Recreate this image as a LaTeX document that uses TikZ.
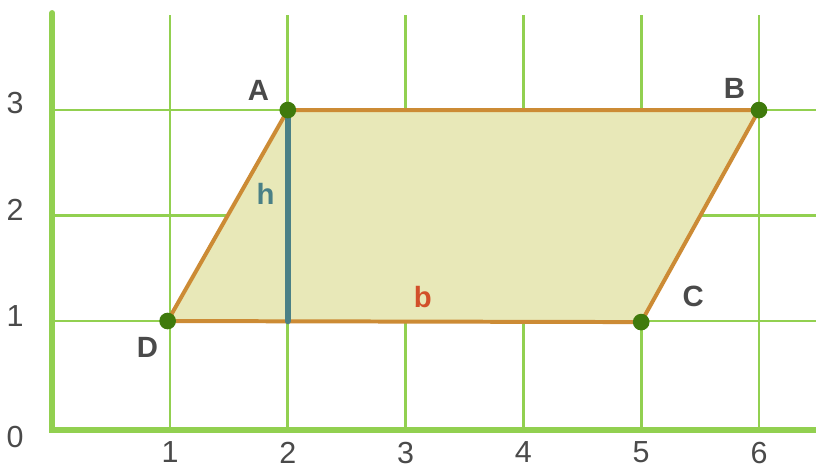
\documentclass[tikz,border=0pt]{standalone}
\usepackage{fontspec}
\setmainfont{Liberation Sans}
\usetikzlibrary{positioning}
\definecolor{gridgreen}{HTML}{92D050}
\definecolor{dotgreen}{HTML}{3F7A0C}
\definecolor{edgeorange}{HTML}{CC8B35}
\definecolor{fillolive}{HTML}{E8E8B8}
\definecolor{heightteal}{HTML}{4A8086}
\definecolor{basered}{HTML}{D2502A}
\definecolor{labelgray}{HTML}{4A4A4A}
\tikzset{
    gridline/.style={draw=gridgreen, line width=2.4pt},
    axisline/.style={draw=gridgreen, line width=5pt, line cap=round},
    ticklabel/.style={text=labelgray, font=\fontsize{26}{28}\selectfont, inner sep=0pt, text depth=0pt},
    vertexlabel/.style={text=labelgray, font=\fontsize{25}{28}\selectfont\bfseries, inner sep=0pt},
    vertex/.style={circle, fill=dotgreen, minimum size=0.5cm, inner sep=0pt},
    quadshape/.style={draw=edgeorange, fill=fillolive, line width=3.4pt, line join=round}
}
\begin{document}
\begin{tikzpicture}[x=3.534cm, y=3.165cm]
    \useasboundingbox (-0.443,-0.374) rectangle (6.484,4.043);
    % grid
    \foreach \x in {1,...,6}
        \draw[gridline] (\x,0) -- (\x,3.90);
    \foreach \y in {1,2,3}
        \draw[gridline] (0,\y) -- (6.484,\y);
    % axes
    \draw[axisline] (0,3.92) -- (0,-0.035) -- (6.6,-0.035);
    \foreach \x in {1,...,6}
        \node[ticklabel] (tx\x) at (\x,-0.245) {\x};
    \foreach \y/\yy in {0/-0.10,1/1.047,2/2.05,3/3.066}
        \node[ticklabel] (ty\y) at (-0.315,\yy) {\y};
    % parallelogram
    \coordinate (a) at (2,3);
    \coordinate (b) at (6,3);
    \coordinate (c) at (5,0.99);
    \coordinate (d) at (0.98,1);
    \coordinate (foot) at (2,1);
    \draw[quadshape] (a) -- (b) -- (c) -- (d) -- cycle;
    \draw[heightteal, line width=5.5pt, line cap=round] (a) -- (foot);
    \node[vertex] (A) at (a) {};
    \node[vertex] (B) at (b) {};
    \node[vertex] (C) at (c) {};
    \node[vertex] (D) at (d) {};
    % labels
    \node[vertexlabel] (labA) at (1.752,3.190) {A};
    \node[vertexlabel] (labB) at (5.791,3.209) {B};
    \node[vertexlabel] (labC) at (5.442,1.237) {C};
    \node[vertexlabel] (labD) at (0.808,0.754) {D};
    \node[vertexlabel, text=heightteal] (labh) at (1.811,2.204) {h};
    \node[vertexlabel, text=basered] (labb) at (3.146,1.227) {b};
\end{tikzpicture}
\end{document}
